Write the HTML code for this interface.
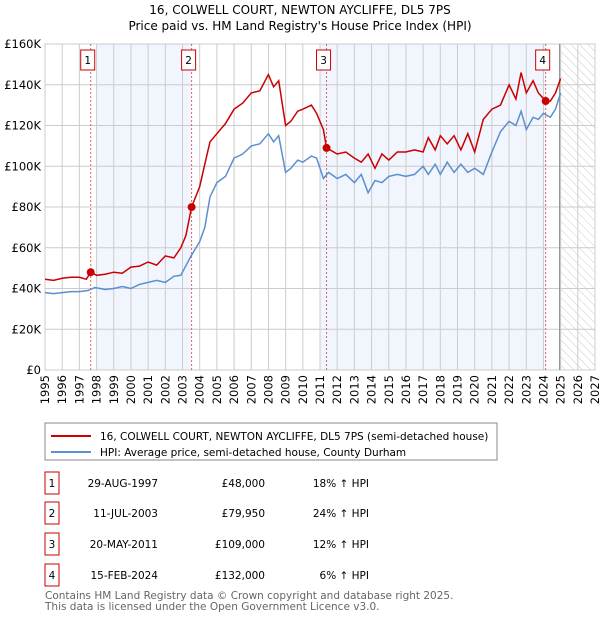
<!DOCTYPE html>
<html><head><meta charset="utf-8"><style>
body{margin:0;background:#fff;font-family:"DejaVu Sans","Liberation Sans",sans-serif;}
svg text{font-family:"DejaVu Sans","Liberation Sans",sans-serif;}
</style></head><body>
<svg id="c" width="600" height="620" xmlns="http://www.w3.org/2000/svg">
<defs><pattern id="hatch" width="6" height="6" patternUnits="userSpaceOnUse" patternTransform="rotate(-45)"><line x1="0" y1="0" x2="0" y2="6" stroke="#ccc" stroke-width="1"/></pattern></defs>
<text x="300" y="14" text-anchor="middle" font-size="12">16, COLWELL COURT, NEWTON AYCLIFFE, DL5 7PS</text>
<text x="300" y="30" text-anchor="middle" font-size="12">Price paid vs. HM Land Registry's House Price Index (HPI)</text>
<g id="plot"></g>
<rect x="45" y="423" width="452" height="37" fill="#fff" stroke="#888"/>
<line x1="51" y1="436" x2="91" y2="436" stroke="#cc0000" stroke-width="2"/>
<text x="100" y="440" font-size="10.5">16, COLWELL COURT, NEWTON AYCLIFFE, DL5 7PS (semi-detached house)</text>
<line x1="51" y1="452" x2="91" y2="452" stroke="#5b8fd0" stroke-width="2"/>
<text x="100" y="456" font-size="10.5">HPI: Average price, semi-detached house, County Durham</text>
<g id="tbl" font-size="10.5"></g>
<text x="45" y="599" font-size="10.5" fill="#666">Contains HM Land Registry data © Crown copyright and database right 2025.</text>
<text x="45" y="610" font-size="10.5" fill="#666">This data is licensed under the Open Government Licence v3.0.</text>
</svg>
<script>
const hpiYears=[1995,1995.5,1996,1996.5,1997,1997.5,1997.9,1998.5,1999,1999.5,2000,2000.5,2001,2001.5,2002,2002.5,2002.9,2003.5,2004,2004.3,2004.6,2005,2005.5,2006,2006.5,2007,2007.5,2008,2008.3,2008.6,2009,2009.3,2009.7,2010,2010.5,2010.8,2011.2,2011.5,2012,2012.5,2013,2013.4,2013.8,2014.2,2014.6,2015,2015.5,2016,2016.5,2017,2017.3,2017.7,2018,2018.4,2018.8,2019.2,2019.6,2020,2020.5,2021,2021.5,2022,2022.4,2022.7,2023,2023.4,2023.7,2024,2024.4,2024.7,2025];
const hpiVals=[38,37.5,38,38.5,38.5,39,40.5,39.5,40,41,40,42,43,44,43,46,46.5,56,63,70,85,92,95,104,106,110,111,116,112,115,97,99,103,102,105,104,94,97,94,96,92,96,87,93,92,95,96,95,96,100,96,101,96,102,97,101,97,99,96,107,117,122,120,127,118,124,123,126,124,128,136];
const propYears=[1995,1995.5,1996,1996.5,1997,1997.4,1997.66,1998,1998.5,1999,1999.5,2000,2000.5,2001,2001.5,2002,2002.5,2002.9,2003.2,2003.53,2004,2004.3,2004.6,2005,2005.5,2006,2006.5,2007,2007.5,2008,2008.3,2008.6,2009,2009.3,2009.7,2010,2010.5,2010.8,2011.2,2011.38,2012,2012.5,2013,2013.4,2013.8,2014.2,2014.6,2015,2015.5,2016,2016.5,2017,2017.3,2017.7,2018,2018.4,2018.8,2019.2,2019.6,2020,2020.5,2021,2021.5,2022,2022.4,2022.7,2023,2023.4,2023.7,2024.13,2024.4,2024.7,2025];
const propVals=[44.5,44,45,45.5,45.5,44.5,48,46.5,47,48,47.5,50.5,51,53,51.5,56,55,60,66,80,90,101,112,116,121,128,131,136,137,145,139,142,120,122,127,128,130,126,118,109,106,107,104,102,106,99,106,103,107,107,108,107,114,108,115,111,115,108,116,107,123,128,130,140,133,146,136,142,136,132,132,136,143];
const saleYears=[1997.66,2003.53,2011.38,2024.13];
const saleVals=[48,79.95,109,132];
const saleLabels=["1","2","3","4"];
const saleDates=["29-AUG-1997","11-JUL-2003","20-MAY-2011","15-FEB-2024"];
const salePrices=["£48,000","£79,950","£109,000","£132,000"];
const saleHpi=["18% ↑ HPI","24% ↑ HPI","12% ↑ HPI","6% ↑ HPI"];
const yTicks=[0,20,40,60,80,100,120,140,160];
const xTicks=[1995,1996,1997,1998,1999,2000,2001,2002,2003,2004,2005,2006,2007,2008,2009,2010,2011,2012,2013,2014,2015,2016,2017,2018,2019,2020,2021,2022,2023,2024,2025,2026,2027];

const X0=45,X1=595,Y0=370,Y1=44;
const xs=y=>X0+(y-1995)/(2027-1995)*(X1-X0);
const ys=v=>Y0-v/160*(Y0-Y1);
const NS="http://www.w3.org/2000/svg";
const plot=document.getElementById('plot');
function mk(tag,attrs,parent){const e=document.createElementNS(NS,tag);for(const k in attrs)e.setAttribute(k,attrs[k]);(parent||plot).appendChild(e);return e;}

let r;
r=mk('rect',{x:X0,y:Y1,width:X1-X0,height:Y0-Y1,fill:'#fff'});


r=mk('rect',{x:xs(1998),y:Y1,width:xs(saleYears[1])-xs(1998),height:Y0-Y1,fill:'#eef3fc',opacity:0.8});


r=mk('rect',{x:xs(2011),y:Y1,width:xs(saleYears[3])-xs(2011),height:Y0-Y1,fill:'#eef3fc',opacity:0.8});


r=mk('rect',{x:xs(2025),y:Y1,width:X1-xs(2025),height:Y0-Y1,fill:'url(#hatch)'});


xTicks.forEach(t=>{
 const l=mk('line',{x1:xs(t),x2:xs(t),y1:Y1,y2:Y0,stroke:'#ccc'});
 
 
 const px=xs(t)+4, py=Y0+5;
 const tx=mk('text',{x:px,y:py,'text-anchor':'end','font-size':11.5,transform:`rotate(-90 ${px} ${py})`});
 tx.textContent=t;
 
 
});
yTicks.forEach(t=>{
 const l=mk('line',{x1:X0,x2:X1,y1:ys(t),y2:ys(t),stroke:'#ccc'});
 
 
 const tx=mk('text',{x:X0-4,y:ys(t)+4,'text-anchor':'end','font-size':11.5});
 tx.textContent=t===0?'£0':'£'+t+'K';
 
 
});
r=mk('rect',{x:X0,y:Y1,width:X1-X0,height:Y0-Y1,fill:'none',stroke:'#ccc'});


const nl=mk('line',{x1:xs(2025)-1,x2:xs(2025)-1,y1:Y1,y2:Y0,stroke:'#888','stroke-width':1});


saleYears.forEach((y,i)=>{
 const l=mk('line',{x1:xs(y),x2:xs(y),y1:Y1,y2:Y0,stroke:'#e06060','stroke-dasharray':'2,2'});
 
 
 const b=mk('rect',{x:xs(y)-10,y:50,width:14,height:20,fill:'#fff',stroke:'#cc0000'});
 
 
 const t=mk('text',{x:xs(y)-3,y:64,'text-anchor':'middle','font-size':10.5});
 t.textContent=saleLabels[i];
 
 
});
function pts(a,b){return a.map((y,i)=>xs(y).toFixed(1)+','+ys(b[i]).toFixed(1)).join(' ');}
const hl=mk('polyline',{points:pts(hpiYears,hpiVals),fill:'none',stroke:'#5b8fd0','stroke-width':1.5});


const pl=mk('polyline',{points:pts(propYears,propVals),fill:'none',stroke:'#cc0000','stroke-width':1.5});


saleYears.forEach((y,i)=>{
 const c=mk('circle',{cx:xs(y),cy:ys(saleVals[i]),r:4,fill:'#cc0000'});
 
 
});
const tbl=document.getElementById('tbl');
const rowY=[483,513,544,575];
saleLabels.forEach((s,i)=>{
 const y=rowY[i];
 const b=mk('rect',{x:45,y:y-11,width:14,height:22,fill:'#fff',stroke:'#cc0000'},tbl);
 
 
 const t1=mk('text',{x:52,y:y+4,'text-anchor':'middle'},tbl);t1.textContent=s;
 
 
 const t2=mk('text',{x:158,y:y+4,'text-anchor':'end'},tbl);t2.textContent=saleDates[i];
 
 
 const t3=mk('text',{x:265,y:y+4,'text-anchor':'end'},tbl);t3.textContent=salePrices[i];
 
 
 const t4=mk('text',{x:369,y:y+4,'text-anchor':'end'},tbl);t4.textContent=saleHpi[i];
 
 
});
</script>
</body></html>
